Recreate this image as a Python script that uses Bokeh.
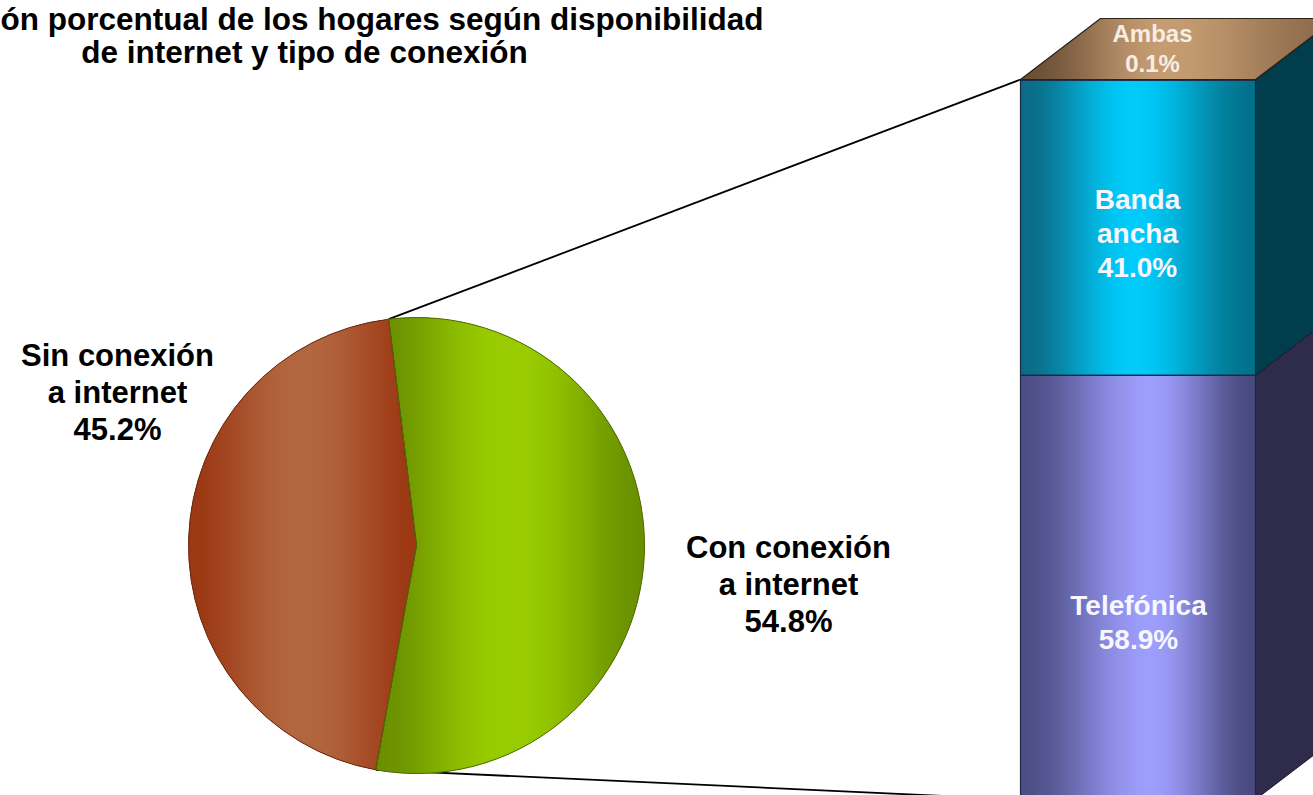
import numpy as np
from bokeh.plotting import figure
from bokeh.models import Range1d
from bokeh.core.properties import value
from bokeh.embed import file_html
from bokeh.resources import INLINE

# ---------------- data ----------------
title_lines = ["ón porcentual de los hogares según disponibilidad",
               "de internet y tipo de conexión"]
pie_categories = ["Sin conexión\na internet", "Con conexión\na internet"]
pie_values = [45.2, 54.8]
bar_categories = ["Telefónica", "Banda\nancha", "Ambas"]
bar_values = [58.9, 41.0, 0.1]

# ---------------- layout / style ----------------
W, H = 1313, 795
PAGE_H = 795
FONT = value("Liberation Sans")


def Y(sy):
    """screen y (from top of page) -> data y"""
    return PAGE_H - sy


def hex2rgb(h):
    h = h.lstrip("#")
    return np.array([int(h[i:i + 2], 16) for i in (0, 2, 4)], dtype=float)


def rgb2hex(c):
    c = np.clip(np.round(c), 0, 255).astype(int)
    return "#%02x%02x%02x" % tuple(c)


def smooth(t):
    t = np.clip(t, 0, 1)
    return t * t * (3 - 2 * t)


def grad3(x, x0, xc, x1, cl, cc, cr, power=1.0):
    """reflected horizontal gradient: edge colour cl at x0, centre cc at xc, cr at x1"""
    if x <= xc:
        t = (xc - x) / max(xc - x0, 1e-9)
        return rgb2hex(hex2rgb(cc) + (hex2rgb(cl) - hex2rgb(cc)) * smooth(t) ** power)
    t = (x - xc) / max(x1 - xc, 1e-9)
    return rgb2hex(hex2rgb(cc) + (hex2rgb(cr) - hex2rgb(cc)) * smooth(t) ** power)


def clip_x(poly, x0, keep_greater):
    out = []
    n = len(poly)
    for i in range(n):
        cur, prev = poly[i], poly[i - 1]
        cin = cur[0] >= x0 if keep_greater else cur[0] <= x0
        pin = prev[0] >= x0 if keep_greater else prev[0] <= x0
        if cin:
            if not pin:
                t = (x0 - prev[0]) / (cur[0] - prev[0])
                out.append((x0, prev[1] + t * (cur[1] - prev[1])))
            out.append(cur)
        elif pin:
            t = (x0 - prev[0]) / (cur[0] - prev[0])
            out.append((x0, prev[1] + t * (cur[1] - prev[1])))
    return out


def slab(poly, xa, xb):
    return clip_x(clip_x(poly, xa, True), xb, False)


p = figure(width=W, height=H,
           x_range=Range1d(0, W), y_range=Range1d(Y(H), Y(0)),
           output_backend="svg", toolbar_location=None,
           x_axis_location=None, y_axis_location=None,
           min_border=0, background_fill_color="white", border_fill_color="white")
p.grid.visible = False
p.outline_line_color = None

# ---- bar scale (percent) as an extra y range ----
BAR_ZERO_SY = 799.0      # screen y of 0 %
PX_PER_PCT = 7.2
bar_zero = Y(BAR_ZERO_SY)
p.extra_y_ranges = {"bar": Range1d((p.y_range.start - bar_zero) / PX_PER_PCT,
                                   (p.y_range.end - bar_zero) / PX_PER_PCT)}


def pct2y(v):
    return bar_zero + v * PX_PER_PCT


BX0, BX1 = 1020.0, 1255.0
DX, DY = 80.0, 61.0 / PX_PER_PCT

# ---- pie geometry ----
PCX, PCY, PR = 416.0, Y(545), 228.0
START = 97.0
pie_start, pie_end = [], []
a = START
for v in pie_values:
    pie_start.append(a)
    a += v * 3.6
    pie_end.append(a)

# ---- connector lines ----
bar_bottoms = np.concatenate([[0], np.cumsum(bar_values)[:-1]])
bar_tops = np.cumsum(bar_values)
top_pt = (PCX + PR * np.cos(np.radians(pie_start[0])), PCY + PR * np.sin(np.radians(pie_start[0])))
bot_pt = (PCX + PR * np.cos(np.radians(pie_end[0])), PCY + PR * np.sin(np.radians(pie_end[0])))
p.multi_line(xs=[[top_pt[0], BX0], [bot_pt[0], BX0]],
             ys=[[top_pt[1], pct2y(bar_tops[-1])], [bot_pt[1], pct2y(0)]],
             line_color="black", line_width=1.8)

# ---- pie slices ----
pie_edge = ["#9c3814", "#6a9000"]
pie_centre = ["#b2663f", "#99cc00"]
pie_mid = ["#a44a24", "#84b000"]
pie_outline = ["#6a2a10", "#4f6a00"]
p.wedge(x=PCX, y=PCY, radius=PR, start_angle=pie_start, end_angle=pie_end,
        start_angle_units="deg", end_angle_units="deg",
        fill_color=pie_mid, line_color=None)

for i in range(len(pie_values)):
    angs = np.radians(np.linspace(pie_start[i], pie_end[i], 240))
    poly = [(PCX, PCY)] + [(PCX + PR * np.cos(t), PCY + PR * np.sin(t)) for t in angs]
    xs_all = [q[0] for q in poly]
    x0, x1 = min(xs_all), max(xs_all)
    xc = (x0 + x1) / 2
    step = 3.0
    sx, sy, sc = [], [], []
    xa = x0
    while xa < x1:
        piece = slab(poly, xa, min(xa + step + 0.8, x1))
        if len(piece) >= 3:
            sx.append([q[0] for q in piece])
            sy.append([q[1] for q in piece])
            sc.append(grad3(xa + step / 2, x0, xc, x1, pie_edge[i], pie_centre[i], pie_edge[i], 1.2))
        xa += step
    p.patches(xs=sx, ys=sy, fill_color=sc, line_color=None)

p.wedge(x=PCX, y=PCY, radius=PR, start_angle=pie_start, end_angle=pie_end,
        start_angle_units="deg", end_angle_units="deg",
        fill_alpha=0, line_color=pie_outline, line_width=1)

# ---- stacked 3D bar ----
bar_left = ["#4e4e86", "#0b6c86", "#6f5236"]
bar_centre = ["#9d9dfc", "#00cbfa", "#c49b70"]
bar_right = ["#4a4a7e", "#03728c", "#9a7550"]
bar_centre_x = [1150.0, 1133.0, 1150.0]
bar_side = ["#2f2c4b", "#003e4e", "#4a3a2a"]

# side faces
p.patches(xs=[[BX1, BX1 + DX, BX1 + DX, BX1] for _ in bar_values],
          ys=[[b, b + DY, t + DY, t] for b, t in zip(bar_bottoms, bar_tops)],
          y_range_name="bar", fill_color=bar_side, line_color="#1a1a2a", line_width=1)

# front faces with horizontal gradient
for i in range(len(bar_values)):
    lefts, rights, cols = [], [], []
    xa = BX0
    step = 2.0
    while xa < BX1:
        lefts.append(xa)
        rights.append(min(xa + step + 0.6, BX1))
        cols.append(grad3(xa + step / 2, BX0, bar_centre_x[i], BX1,
                          bar_left[i], bar_centre[i], bar_right[i], 1.0))
        xa += step
    p.quad(left=lefts, right=rights, bottom=bar_bottoms[i], top=bar_tops[i],
           y_range_name="bar", fill_color=cols, line_color=None)
p.quad(left=BX0, right=BX1, bottom=bar_bottoms, top=bar_tops, y_range_name="bar",
       fill_alpha=0, line_color="#1a2a44", line_width=1.2)

# top face (colour of the top segment)
ttop = bar_tops[-1]
top_poly = [(BX0, ttop), (BX1, ttop), (BX1 + DX, ttop + DY), (BX0 + DX, ttop + DY)]
tx, ty, tc = [], [], []
xa = BX0
while xa < BX1 + DX:
    piece = slab(top_poly, xa, xa + 2.8)
    if len(piece) >= 3:
        tx.append([q[0] for q in piece])
        ty.append([q[1] for q in piece])
        tc.append(grad3(xa + 1, BX0, 1165.0, BX1 + DX, "#6a4e34", "#c59c72", "#8e6c4c", 1.0))
    xa += 2.0
p.patches(xs=tx, ys=ty, y_range_name="bar", fill_color=tc, line_color=None)
p.patch(x=[q[0] for q in top_poly], y=[q[1] for q in top_poly], y_range_name="bar",
        fill_alpha=0, line_color="#2a2418", line_width=1.2)

# ---- labels ----
p.text(x=[0], y=[Y(18)], text=[title_lines[0]],
       text_font=FONT, text_font_style="bold", text_font_size="31.5px",
       text_align="left", text_baseline="alphabetic", text_color="black")
p.text(x=[304], y=[Y(51)], text=[title_lines[1]],
       text_font=FONT, text_font_style="bold", text_font_size="31.5px",
       text_align="center", text_baseline="alphabetic", text_color="black")

pie_labels = [f"{c}\n{v:.1f}%" for c, v in zip(pie_categories, pie_values)]
p.text(x=[117, 788], y=[Y(392), Y(584)], text=pie_labels,
       text_font=FONT, text_font_style="bold", text_font_size="31px",
       text_align="center", text_baseline="middle", text_line_height=1.05,
       text_color="black")

bar_labels = [f"{c}\n{v:.1f}%" for c, v in zip(bar_categories, bar_values)]
p.text(x=[1138, 1137], y=[Y(622), Y(233)], text=bar_labels[:2],
       text_font=FONT, text_font_style="bold", text_font_size="28px",
       text_align="center", text_baseline="middle", text_line_height=1.1,
       text_color="#f7f7ff")
p.text(x=[1152], y=[Y(48)], text=bar_labels[2:],
       text_font=FONT, text_font_style="bold", text_font_size="24px",
       text_align="center", text_baseline="middle", text_line_height=1.1,
       text_color="#f6eee2")

open("out.html", "w").write(file_html(p, INLINE))
